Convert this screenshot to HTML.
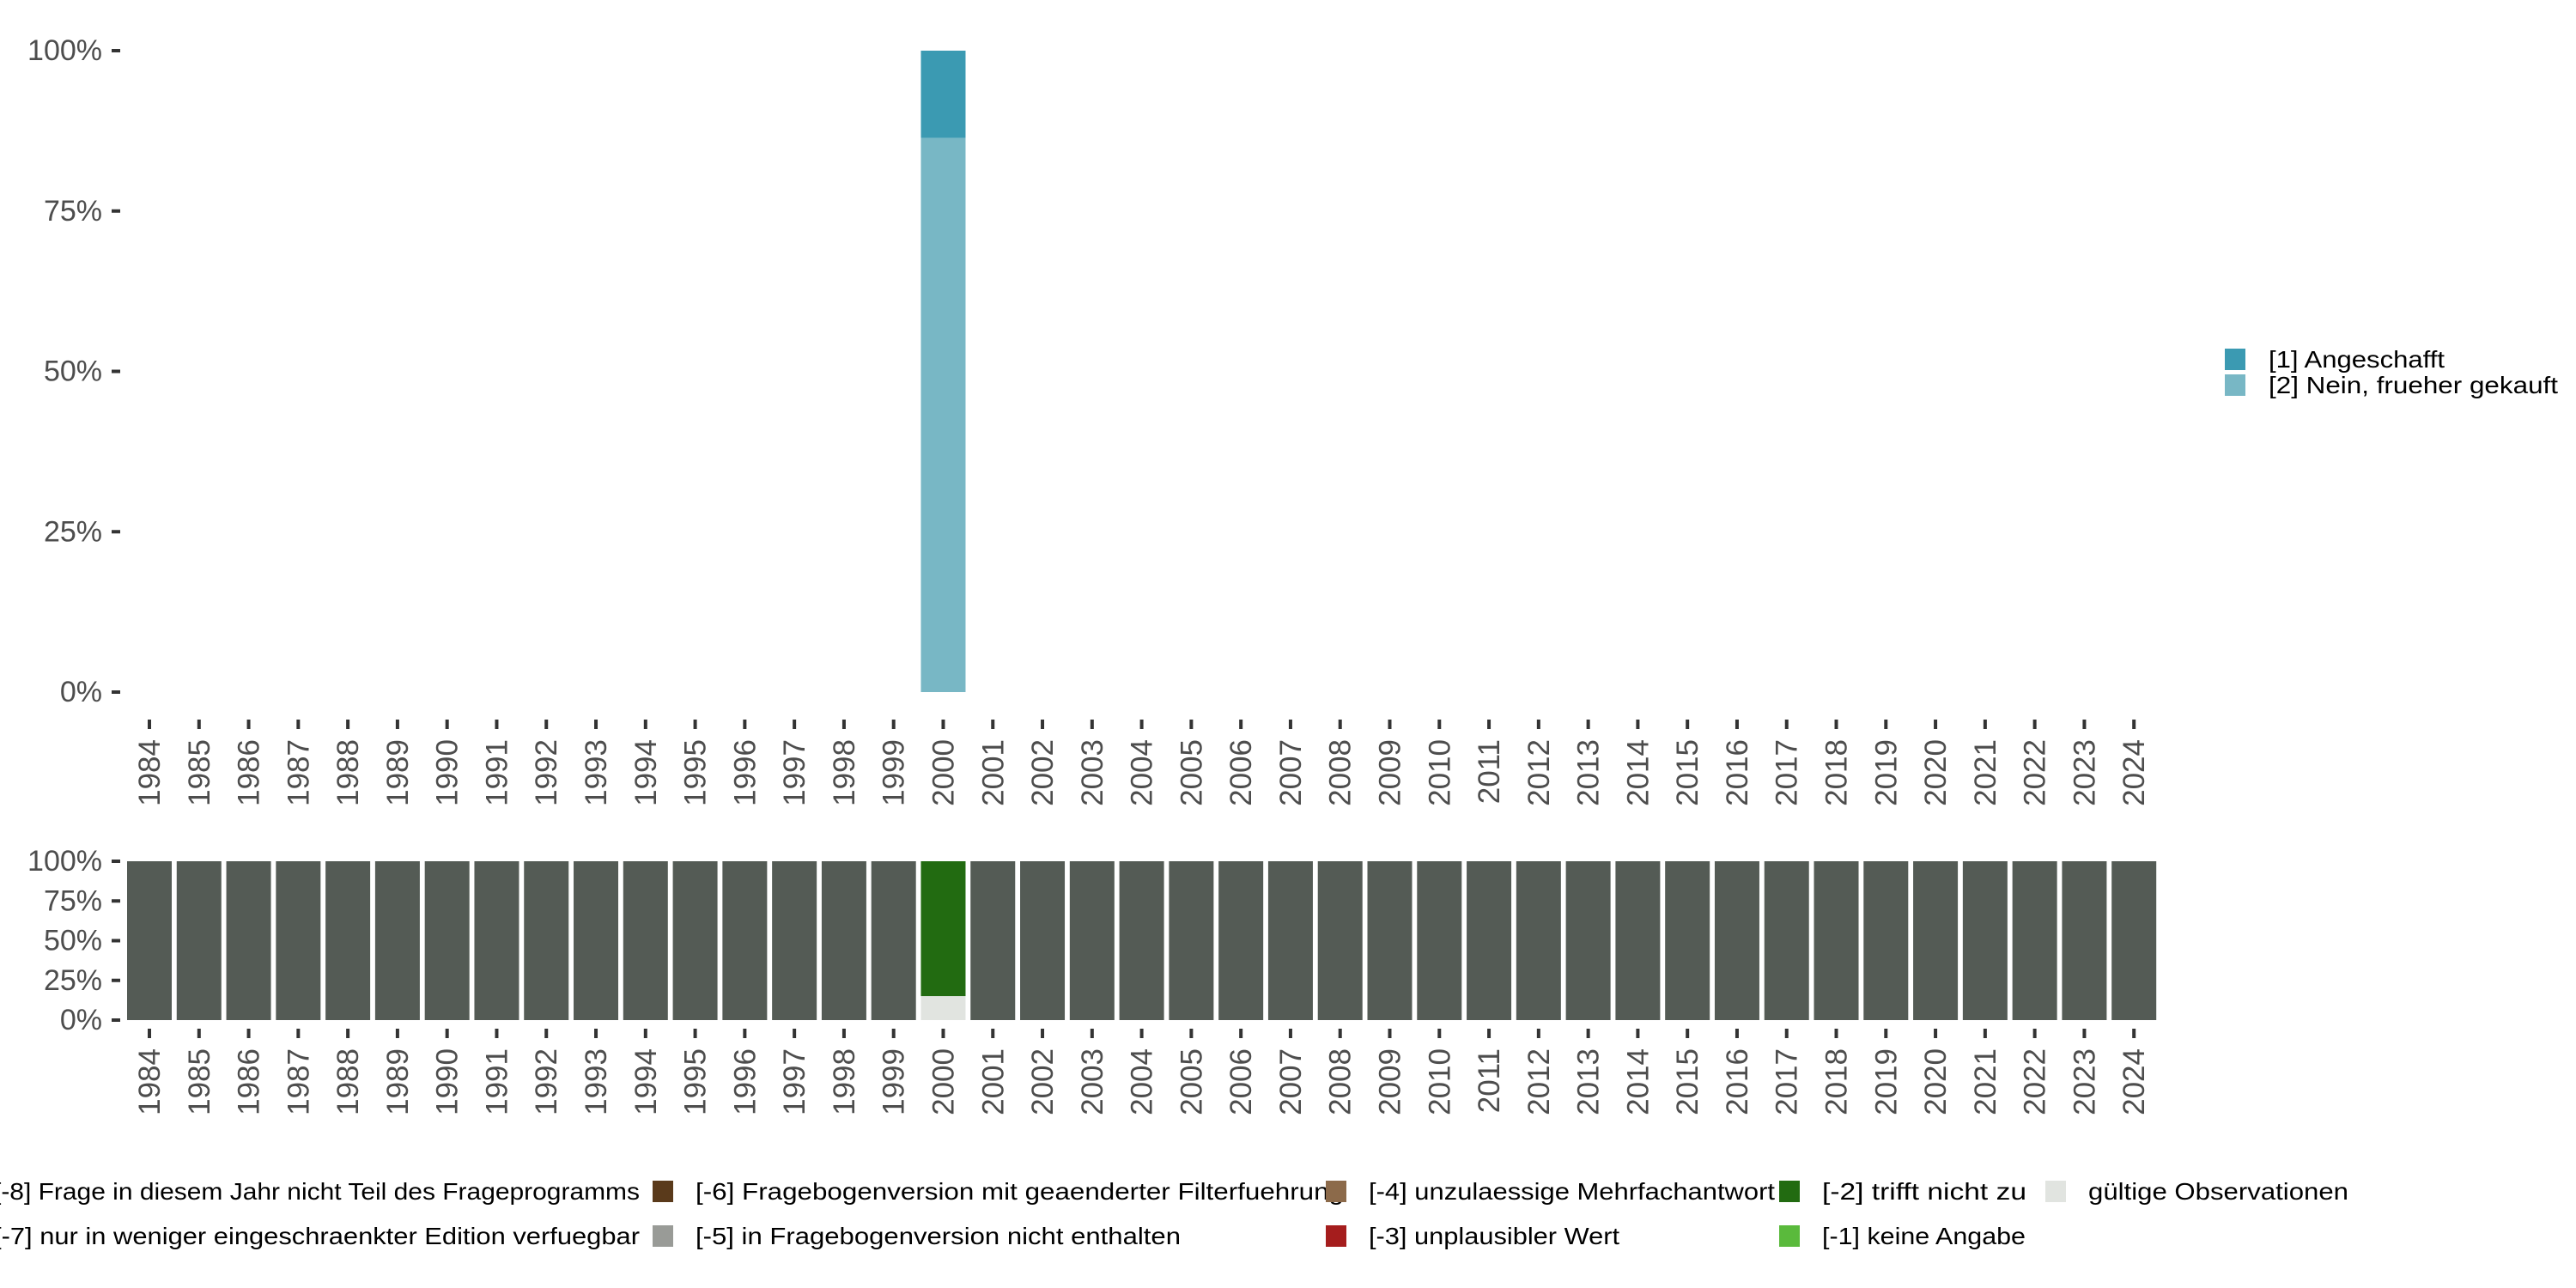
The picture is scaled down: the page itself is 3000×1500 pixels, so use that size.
<!DOCTYPE html>
<html><head><meta charset="utf-8">
<style>
html,body{margin:0;padding:0;background:#fff;}
svg{display:block;}
text{font-family:"Liberation Sans","DejaVu Sans",sans-serif;}
</style></head>
<body>
<svg id="chart" width="3000" height="1500" viewBox="0 0 3000 1500" xmlns="http://www.w3.org/2000/svg">
<g id="top"></g>
<g id="bottom"></g>
<g id="legend-right"></g>
<g id="legend-bottom"></g>
</svg>
<script>
const years = [];
for (let y = 1984; y <= 2024; y++) years.push(y);
const topYear = [2000];
const topAngeschafft = [0.136];
const topNein = [0.864];
const bottomGueltig = [0.151];
const bottomTrifftNicht = [0.849];
const yTickValues = [0, 0.25, 0.5, 0.75, 1];
const yTickLabels = ["0%", "25%", "50%", "75%", "100%"];

const NS = "http://www.w3.org/2000/svg";
function mk(tag, attrs, parent, txt) {
  const e = document.createElementNS(NS, tag);
  for (const k in attrs) e.setAttribute(k, attrs[k]);
  if (txt !== undefined) e.textContent = txt;
  parent.appendChild(e);
  return e;
}
const x0 = 174, step = 57.78, barW = 52;
function xScale(yr) { return x0 + (yr - 1984) * step; }
function yTop(v) { return 806 - v * (806 - 59); }
function yBot(v) { return 1188 - v * (1188 - 1003); }

function axes(g, yf, tickY, labelY, prefix) {
  yTickValues.forEach((v, i) => {
    const t = mk("line", {x1: 130, x2: 140, y1: yf(v), y2: yf(v), stroke: "#333", "stroke-width": 4}, g);
    
    
    const l = mk("text", {x: 119, y: yf(v) + 11, "text-anchor": "end", "font-size": 34, fill: "#4d4d4d"}, g, yTickLabels[i]);
    
    
  });
  years.forEach(yr => {
    const x = xScale(yr);
    const t = mk("line", {x1: x, x2: x, y1: tickY, y2: tickY + 11, stroke: "#333", "stroke-width": 4}, g);
    
    
    const l = mk("text", {x: 0, y: 0, "text-anchor": "end", "font-size": 35, fill: "#4d4d4d",
      transform: `translate(${x + 12},${labelY}) rotate(-90)`}, g, String(yr));
    
    
  });
}

const gt = document.getElementById("top");
topYear.forEach((yr, i) => {
  const x = xScale(yr) - barW / 2;
  const b1 = mk("rect", {x: x, width: barW, y: yTop(topNein[i]), height: yTop(0) - yTop(topNein[i]), fill: "#78b7c5"}, gt);
  
  
  const tot = topNein[i] + topAngeschafft[i];
  const b2 = mk("rect", {x: x, width: barW, y: yTop(tot), height: yTop(topNein[i]) - yTop(tot), fill: "#3b9ab2"}, gt);
  
  
});
axes(gt, yTop, 838, 861, "top");

const gb = document.getElementById("bottom");
years.forEach(yr => {
  const x = xScale(yr) - barW / 2;
  const idx = topYear.indexOf(yr);
  if (idx < 0) {
    const b = mk("rect", {x: x, width: barW, y: yBot(1), height: yBot(0) - yBot(1), fill: "#545b55"}, gb);
    
    
  } else {
    const g1 = bottomGueltig[idx];
    const b = mk("rect", {x: x, width: barW, y: yBot(g1), height: yBot(0) - yBot(g1), fill: "#e1e4e0"}, gb);
    
    
    const tot = g1 + bottomTrifftNicht[idx];
    const b2 = mk("rect", {x: x, width: barW, y: yBot(tot), height: yBot(g1) - yBot(tot), fill: "#226b11"}, gb);
    
    
  }
});
axes(gb, yBot, 1198, 1221, "bottom");

const lr = document.getElementById("legend-right");
[["[1] Angeschafft", "#3b9ab2", 406, 205], ["[2] Nein, frueher gekauft", "#78b7c5", 436, 337]].forEach(d => {
  const k = mk("rect", {x: 2591, y: d[2], width: 24, height: 25, fill: d[1]}, lr);
  
  
  const t = mk("text", {x: 2642, y: d[2] + 22, "font-size": 28, fill: "#000", textLength: d[3], lengthAdjust: "spacingAndGlyphs"}, lr, d[0]);
  
  
});

const lb = document.getElementById("legend-bottom");
const items = [
  ["[-8] Frage in diesem Jahr nicht Teil des Frageprogramms", "#545b55", -57, 1387, 752],
  ["[-7] nur in weniger eingeschraenkter Edition verfuegbar", "#7f7f7f", -57, 1439, 752],
  ["[-6] Fragebogenversion mit geaenderter Filterfuehrung", "#5a3a1b", 760, 1387, 755],
  ["[-5] in Fragebogenversion nicht enthalten", "#999b97", 760, 1439, 565],
  ["[-4] unzulaessige Mehrfachantwort", "#8c6a4a", 1544, 1387, 473],
  ["[-3] unplausibler Wert", "#a51d1d", 1544, 1439, 292],
  ["[-2] trifft nicht zu", "#226b11", 2072, 1387, 238],
  ["[-1] keine Angabe", "#5aba3c", 2072, 1439, 237],
  ["gültige Observationen", "#e1e4e0", 2382, 1387, 303]
];
items.forEach(d => {
  const k = mk("rect", {x: d[2], y: d[3] - 12, width: 24, height: 25, fill: d[1]}, lb);
  
  
  const t = mk("text", {x: d[2] + 50, y: d[3] + 10, "font-size": 28, fill: "#000", textLength: d[4], lengthAdjust: "spacingAndGlyphs"}, lb, d[0]);
  
  
});
</script>
</body></html>
